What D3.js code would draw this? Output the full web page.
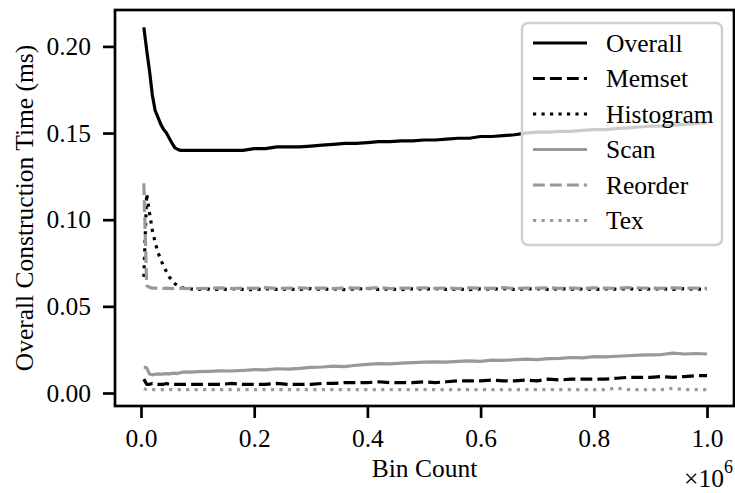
<!DOCTYPE html>
<html>
<head>
<meta charset="utf-8">
<script src="https://cdn.jsdelivr.net/npm/d3@7"></script>
<style>
  html, body { margin: 0; padding: 0; background: #fff; }
  svg text { font-family: "Liberation Serif", "DejaVu Serif", serif; fill: #000; }
</style>
</head>
<body>
<div id="chart"></div>
<script>
// bin counts along the x axis
const binCounts = [5000, 10000, 15000, 20000, 25000, 30000, 35000, 40000, 45000, 50000, 55000, 60000, 65000, 70000, 75000, 80000, 90000, 100000,
  120000, 140000, 160000, 180000, 200000, 220000, 240000, 260000, 280000, 300000,
  320000, 340000, 360000, 380000, 400000, 420000, 440000, 460000, 480000, 500000,
  520000, 540000, 560000, 580000, 600000, 620000, 640000, 660000, 680000, 700000,
  720000, 740000, 760000, 780000, 800000, 820000, 840000, 860000, 880000, 900000,
  920000, 940000, 960000, 980000, 1000000];

const overall = [0.211, 0.198, 0.186, 0.172, 0.163, 0.159, 0.155, 0.152, 0.150, 0.147, 0.144, 0.1415, 0.1405, 0.140, 0.140, 0.140, 0.140, 0.140,
  0.140, 0.140, 0.140, 0.140, 0.141, 0.141, 0.142, 0.142, 0.142, 0.1425,
  0.143, 0.1435, 0.144, 0.144, 0.1445, 0.145, 0.145, 0.1455, 0.1455, 0.146,
  0.146, 0.1465, 0.147, 0.147, 0.148, 0.148, 0.1485, 0.149, 0.150, 0.1505,
  0.1505, 0.151, 0.151, 0.1515, 0.152, 0.152, 0.1525, 0.153, 0.1535, 0.154,
  0.154, 0.1545, 0.155, 0.1555, 0.156];

const memset = [0.008, 0.005, 0.005, 0.0055, 0.005, 0.005, 0.005, 0.005, 0.0055, 0.005, 0.005, 0.005, 0.005, 0.005, 0.005, 0.005, 0.005, 0.005,
  0.005, 0.005, 0.0055, 0.005, 0.005, 0.005, 0.0055, 0.005, 0.005, 0.005,
  0.0055, 0.0055, 0.006, 0.006, 0.006, 0.0065, 0.006, 0.006, 0.006, 0.0065,
  0.006, 0.0065, 0.007, 0.007, 0.007, 0.0075, 0.007, 0.007, 0.0075, 0.007,
  0.008, 0.0075, 0.008, 0.008, 0.008, 0.008, 0.0085, 0.009, 0.009, 0.009,
  0.0095, 0.009, 0.0095, 0.010, 0.010];

const histogram = [0.067, 0.115, 0.104, 0.094, 0.087, 0.081, 0.077, 0.073, 0.070, 0.067, 0.065, 0.063, 0.062, 0.061, 0.0605, 0.060, 0.060, 0.0598,
  0.0600, 0.0597, 0.0602, 0.0598, 0.0596, 0.0601, 0.0598, 0.0600, 0.0597, 0.0602,
  0.0598, 0.0601, 0.0597, 0.0600, 0.0603, 0.0598, 0.0600, 0.0597, 0.0601, 0.0599,
  0.0602, 0.0598, 0.0600, 0.0597, 0.0601, 0.0599, 0.0602, 0.0598, 0.0600, 0.0601,
  0.0598, 0.0602, 0.0599, 0.0600, 0.0597, 0.0601, 0.0599, 0.0602, 0.0598, 0.0600,
  0.0601, 0.0598, 0.0602, 0.0599, 0.0600];

const scan = [0.015, 0.0145, 0.011, 0.0105, 0.0108, 0.011, 0.0108, 0.011, 0.0112, 0.011, 0.0113, 0.0115, 0.0112, 0.0118, 0.012, 0.0122, 0.012, 0.0123,
  0.0125, 0.0128, 0.0127, 0.013, 0.0135, 0.0133, 0.014, 0.0138, 0.0142, 0.0148,
  0.015, 0.0155, 0.0152, 0.016, 0.0165, 0.017, 0.0168, 0.0172, 0.0175, 0.0178,
  0.018, 0.0178, 0.0182, 0.0185, 0.0183, 0.019, 0.0188, 0.0192, 0.0195, 0.0193,
  0.0198, 0.020, 0.0205, 0.0203, 0.021, 0.0208, 0.0212, 0.0215, 0.0218, 0.022,
  0.0222, 0.023, 0.0225, 0.0228, 0.0225];

const reorder = [0.121, 0.062, 0.061, 0.0605, 0.0605, 0.0603, 0.0605, 0.0603, 0.0605, 0.0604, 0.0602, 0.0605, 0.0603, 0.0605, 0.0604, 0.0602, 0.0605, 0.0603,
  0.0604, 0.0607, 0.0603, 0.0606, 0.0604, 0.0608, 0.0603, 0.0605, 0.0607, 0.0604,
  0.0606, 0.0603, 0.0607, 0.0605, 0.0604, 0.0608, 0.0603, 0.0606, 0.0605, 0.0607,
  0.0604, 0.0606, 0.0603, 0.0607, 0.0605, 0.0604, 0.0608, 0.0603, 0.0606, 0.0605,
  0.0607, 0.0604, 0.0606, 0.0603, 0.0607, 0.0605, 0.0604, 0.0608, 0.0606, 0.0605,
  0.0604, 0.0607, 0.0605, 0.0606, 0.0604];

const tex = [0.0025, 0.002, 0.002, 0.002, 0.002, 0.002, 0.002, 0.002, 0.002, 0.002, 0.002, 0.002, 0.002, 0.002, 0.002, 0.002, 0.002, 0.002,
  0.002, 0.002, 0.002, 0.002, 0.002, 0.002, 0.002, 0.002, 0.002, 0.002,
  0.002, 0.002, 0.002, 0.002, 0.002, 0.002, 0.002, 0.002, 0.002, 0.002,
  0.002, 0.002, 0.002, 0.002, 0.002, 0.002, 0.002, 0.002, 0.002, 0.002,
  0.002, 0.002, 0.002, 0.002, 0.002, 0.002, 0.0028, 0.002, 0.002, 0.002,
  0.002, 0.0027, 0.002, 0.002, 0.002];

const xTicks = [0, 200000, 400000, 600000, 800000, 1000000];
const yTicks = [0, 0.05, 0.10, 0.15, 0.20];

const seriesNames = ['Overall', 'Memset', 'Histogram', 'Scan', 'Reorder', 'Tex'];
const seriesValues = [overall, memset, histogram, scan, reorder, tex];

function drawChart() {
  const width = 735, height = 493;
  const margin = { left: 115, right: 1, top: 10, bottom: 87 };
  const lw = 3.2;
  const fs = 25.5;
  const styles = [
    { color: '#000', dash: null },
    { color: '#000', dash: [3.7 * lw, 1.6 * lw] },
    { color: '#000', dash: [1 * lw, 1.65 * lw] },
    { color: '#999', dash: null },
    { color: '#999', dash: [3.7 * lw, 1.6 * lw] },
    { color: '#999', dash: [1 * lw, 1.65 * lw] }
  ];

  const svg = d3.select('#chart')
    .append('svg')
    .attr('width', width)
    .attr('height', height);

  const x = d3.scaleLinear()
    .domain([-45936, 1047703])
    .range([margin.left, width - margin.right]);

  const y = d3.scaleLinear()
    .domain([-0.0075, 0.2210])
    .range([height - margin.bottom, margin.top]);

  const line = d3.line()
    .x((d) => x(d[0]))
    .y((d) => y(d[1]));

  const plot = svg.append('g');
  seriesValues.forEach((vals, i) => {
    plot.append('path')
      .datum(binCounts.map((b, j) => [b, vals[j]]))
      .attr('fill', 'none')
      .attr('stroke', styles[i].color)
      .attr('stroke-width', lw)
      .attr('stroke-linejoin', 'round')
      .attr('stroke-dasharray', styles[i].dash ? styles[i].dash.join(',') : null)
      .attr('d', line);
  });

  // axes
  const xAxis = svg.append('g')
    .attr('transform', `translate(0,${height - margin.bottom})`)
    .call(d3.axisBottom(x).tickValues(xTicks).tickSize(12).tickPadding(11)
      .tickFormat((d) => d3.format('.1f')(d / 1e6)));
  const yAxis = svg.append('g')
    .attr('transform', `translate(${margin.left},0)`)
    .call(d3.axisLeft(y).tickValues(yTicks).tickSize(12).tickPadding(12)
      .tickFormat(d3.format('.2f')));

  [xAxis, yAxis].forEach((g) => {
    g.select('.domain').remove();
    g.selectAll('.tick line').attr('stroke', '#000').attr('stroke-width', 2.7);
    g.selectAll('.tick text').attr('font-size', fs).attr('fill', '#000')
      .style('font-family', '"Liberation Serif", serif');
  });

  // frame
  svg.append('rect')
    .attr('x', margin.left)
    .attr('y', margin.top)
    .attr('width', width - margin.left - margin.right)
    .attr('height', height - margin.top - margin.bottom)
    .attr('fill', 'none')
    .attr('stroke', '#000')
    .attr('stroke-width', 2.7);

  // labels
  svg.append('text')
    .attr('x', (margin.left + width - margin.right) / 2)
    .attr('y', 477)
    .attr('text-anchor', 'middle')
    .attr('font-size', fs)
    .text('Bin Count');

  svg.append('text')
    .attr('transform', `translate(33,${(margin.top + height - margin.bottom) / 2}) rotate(-90)`)
    .attr('text-anchor', 'middle')
    .attr('font-size', fs)
    .text('Overall Construction Time (ms)');

  const off = svg.append('text')
    .attr('x', width - 2)
    .attr('y', 487)
    .attr('text-anchor', 'end')
    .attr('font-size', fs);
  off.append('tspan').text('\u00d710');
  off.append('tspan').attr('dy', -14).attr('font-size', 18).text('6');

  // legend
  const leg = svg.append('g');
  leg.append('rect')
    .attr('x', 522)
    .attr('y', 23)
    .attr('width', 200)
    .attr('height', 222)
    .attr('rx', 6)
    .attr('fill', 'rgba(255,255,255,0.8)')
    .attr('stroke', '#d0d0d0')
    .attr('stroke-width', 2.5);

  seriesNames.forEach((name, i) => {
    const yy = 43 + i * 35.5;
    leg.append('line')
      .attr('x1', 533).attr('x2', 587)
      .attr('y1', yy).attr('y2', yy)
      .attr('stroke', styles[i].color)
      .attr('stroke-width', lw)
      .attr('stroke-dasharray', styles[i].dash ? styles[i].dash.join(',') : null);
    leg.append('text')
      .attr('x', 606)
      .attr('y', yy + 8.5)
      .attr('font-size', fs)
      .text(name);
  });
}

document.addEventListener('DOMContentLoaded', drawChart);
</script>
</body>
</html>
